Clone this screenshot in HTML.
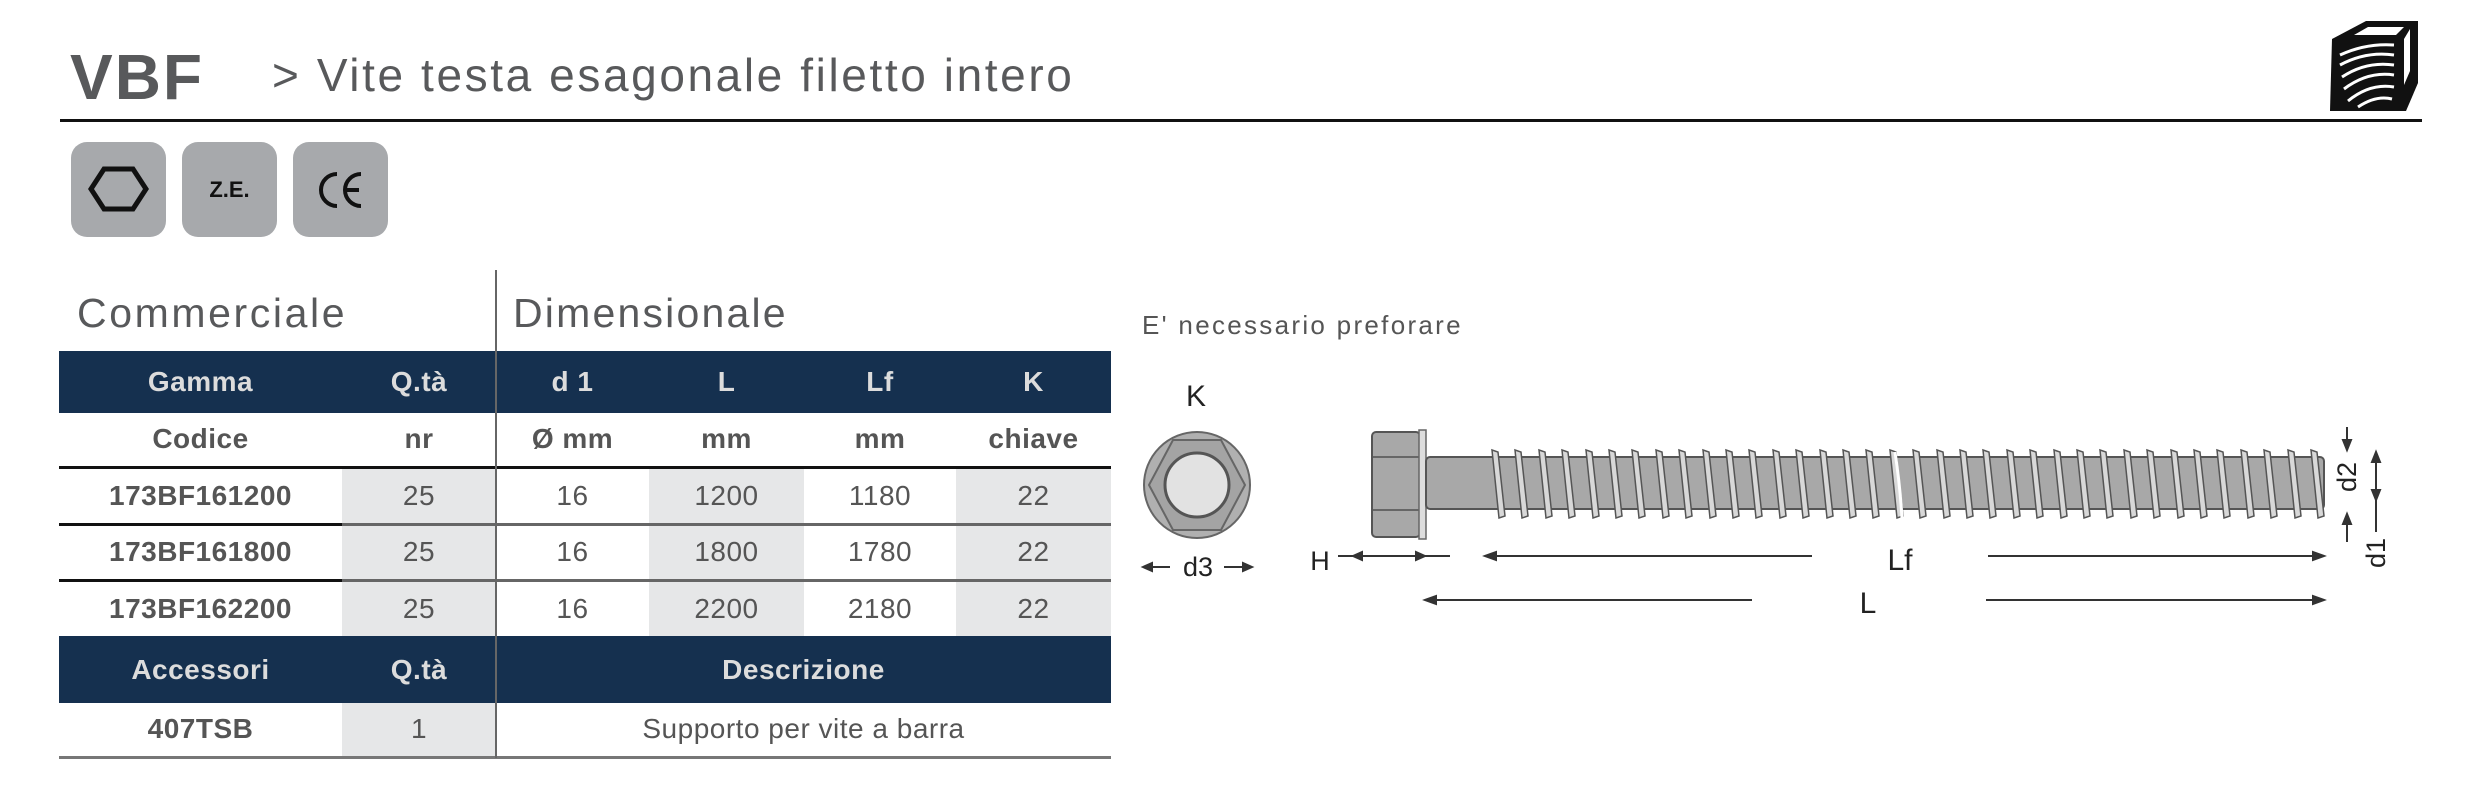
<!DOCTYPE html>
<html><head><meta charset="utf-8"><style>
body{margin:0;width:2481px;height:788px;background:#fff;position:relative;overflow:hidden;font-family:"Liberation Sans",sans-serif;}
.a{position:absolute;}
.ic{position:absolute;top:142px;width:95px;height:95px;background:#a7a9ac;border-radius:16px;}
table{position:absolute;left:59px;top:351px;border-collapse:collapse;font-family:"Liberation Sans",sans-serif;}
td{padding:0;text-align:center;font-size:28px;color:#555;letter-spacing:0.5px}
.h td{background:#15304f;color:#dcdcdc;font-weight:bold;}
.g{background:#e6e7e8;}
.b{font-weight:bold;}
</style></head><body>
<div class="a" style="left:70px;top:42px;font-size:64px;font-weight:bold;color:#58595b;line-height:70px;letter-spacing:2px">VBF</div>
<div class="a" style="left:272px;top:47px;font-size:46px;color:#58595b;line-height:56px;letter-spacing:2.6px">&gt; Vite testa esagonale filetto intero</div>
<div class="a" style="left:60px;top:119px;width:2362px;height:3px;background:#111;"></div>
<svg class="a" style="left:2326px;top:15px" width="98" height="100" viewBox="0 0 98 100">
<path d="M6 24 L40 6 L92 6 L92 68 L80 96 L4 96 Z" fill="#111"/>
<path d="M28 20 L42 12 L78 12 L70 20 Z" fill="#fff"/>
<path d="M78 24 L84 14 L84 56 L78 70 Z" fill="#fff"/>
<g fill="none" stroke="#fff" stroke-width="3">
<path d="M14 40 Q40 28 68 30"/><path d="M14 50 Q40 36 68 40"/><path d="M16 62 Q40 46 68 50"/><path d="M18 74 Q42 56 68 60"/><path d="M22 86 Q44 68 68 72"/><path d="M32 92 Q50 80 66 84"/></g>
</svg>
<div class="ic" style="left:71px"><svg width="95" height="95"><polygon points="33,27 62,27 75,47 62,67 33,67 20,47" fill="none" stroke="#111" stroke-width="5"/></svg></div>
<div class="ic" style="left:182px"><div style="text-align:center;line-height:95px;font-weight:bold;font-size:22px;color:#111">Z.E.</div></div>
<div class="ic" style="left:293px"><svg width="95" height="95" fill="none" stroke="#111" stroke-width="4"><path d="M44 32 A16 16 0 0 0 44 64"/><path d="M68 32 A16 16 0 0 0 68 64 M54 48 L66 48"/></svg></div>

<div class="a" style="left:77px;top:290px;font-size:41px;color:#58595b;line-height:46px;letter-spacing:2.6px">Commerciale</div>
<div class="a" style="left:513px;top:290px;font-size:41px;color:#58595b;line-height:46px;letter-spacing:2.2px">Dimensionale</div>
<div class="a" style="left:495px;top:270px;width:2px;height:488px;background:#666;z-index:2"></div>

<table>
<tr class="h" style="height:62px"><td style="width:283px">Gamma</td><td style="width:154px">Q.tà</td><td style="width:153px">d 1</td><td style="width:155px">L</td><td style="width:152px">Lf</td><td style="width:155px">K</td></tr>
<tr style="height:54px" class="b"><td>Codice</td><td>nr</td><td>Ø mm</td><td>mm</td><td>mm</td><td>chiave</td></tr>
<tr style="height:57px;border-top:3px solid #111"><td class="b">173BF161200</td><td class="g">25</td><td>16</td><td class="g">1200</td><td>1180</td><td class="g">22</td></tr>
<tr style="height:56px;border-top:3px solid #666"><td class="b" style="border-top:3px solid #111">173BF161800</td><td class="g">25</td><td>16</td><td class="g">1800</td><td>1780</td><td class="g">22</td></tr>
<tr style="height:56px;border-top:3px solid #666"><td class="b" style="border-top:3px solid #111">173BF162200</td><td class="g">25</td><td>16</td><td class="g">2200</td><td>2180</td><td class="g">22</td></tr>
<tr class="h" style="height:67px"><td>Accessori</td><td>Q.tà</td><td colspan="4">Descrizione</td></tr>
<tr style="height:54px;border-bottom:3px solid #777"><td class="b">407TSB</td><td class="g">1</td><td colspan="4">Supporto per vite a barra</td></tr>
</table>

<div class="a" style="left:1142px;top:310px;font-size:26px;color:#555;line-height:30px;letter-spacing:2.3px">E' necessario preforare</div>
<svg class="a" style="left:0;top:0" width="2481" height="788">
<defs><path id="t" d="M-3 450 l6 2 l7 64 l-6 2 Z" fill="#d8d8d8" stroke="#555" stroke-width="1.5"/></defs>
<g font-family="Liberation Sans,sans-serif" fill="#222">
<text x="1196" y="406" font-size="30" text-anchor="middle">K</text>
<text x="1198" y="576" font-size="27" text-anchor="middle">d3</text>
<text x="1320" y="570" font-size="27" text-anchor="middle">H</text>
<text x="1900" y="570" font-size="30" text-anchor="middle">Lf</text>
<text x="1868" y="613" font-size="30" text-anchor="middle">L</text>
<text transform="translate(2356,477) rotate(-90)" font-size="27" text-anchor="middle">d2</text>
<text transform="translate(2385,553) rotate(-90)" font-size="27" text-anchor="middle">d1</text>
</g>
<circle cx="1197" cy="485" r="53" fill="#b0b0b0" stroke="#666" stroke-width="2"/>
<polygon points="1173,440 1221,440 1245,485 1221,530 1173,530 1149,485" fill="#a4a4a4" stroke="#666" stroke-width="2"/>
<circle cx="1197" cy="485" r="32" fill="#e2e2e2" stroke="#555" stroke-width="3"/>
<g stroke="#333" stroke-width="2" fill="#333">
<line x1="1145" y1="567" x2="1170" y2="567"/><polygon points="1143,567 1152,563 1152,571"/>
<line x1="1224" y1="567" x2="1250" y2="567"/><polygon points="1252,567 1243,563 1243,571"/>
<line x1="1338" y1="556" x2="1450" y2="556"/><polygon points="1353,556 1362,552 1362,560"/><polygon points="1425,556 1416,552 1416,560"/>
<line x1="1487" y1="556" x2="1812" y2="556"/><polygon points="1485,556 1496,552 1496,560"/>
<line x1="1988" y1="556" x2="2322" y2="556"/><polygon points="2324,556 2313,552 2313,560"/>
<line x1="1427" y1="600" x2="1752" y2="600"/><polygon points="1425,600 1436,596 1436,604"/>
<line x1="1986" y1="600" x2="2322" y2="600"/><polygon points="2324,600 2313,596 2313,604"/>
<line x1="2347" y1="427" x2="2347" y2="445"/><polygon points="2347,450 2343,440 2351,440"/>
<line x1="2347" y1="518" x2="2347" y2="542"/><polygon points="2347,514 2343,524 2351,524"/>
<line x1="2376" y1="455" x2="2376" y2="532"/><polygon points="2376,452 2372,462 2380,462"/><polygon points="2376,500 2372,490 2380,490"/>
</g>
<rect x="1372" y="432" width="48" height="105" rx="4" fill="#a8a8a8" stroke="#555" stroke-width="2"/>
<rect x="1419" y="430" width="7" height="109" fill="#ddd" stroke="#666" stroke-width="1.5"/>
<line x1="1373" y1="457" x2="1419" y2="457" stroke="#666" stroke-width="2"/>
<line x1="1373" y1="510" x2="1419" y2="510" stroke="#666" stroke-width="2"/>
<rect x="1426" y="457" width="898" height="52" rx="4" fill="#a8a8a8" stroke="#555" stroke-width="2"/>
<g>
<use href="#t" x="1495"/><use href="#t" x="1518"/><use href="#t" x="1542"/><use href="#t" x="1565"/><use href="#t" x="1589"/><use href="#t" x="1612"/><use href="#t" x="1635"/><use href="#t" x="1659"/><use href="#t" x="1682"/><use href="#t" x="1706"/><use href="#t" x="1729"/><use href="#t" x="1752"/><use href="#t" x="1776"/><use href="#t" x="1799"/><use href="#t" x="1823"/><use href="#t" x="1846"/><use href="#t" x="1869"/><use href="#t" x="1893"/><use href="#t" x="1916"/><use href="#t" x="1940"/><use href="#t" x="1963"/><use href="#t" x="1986"/><use href="#t" x="2010"/><use href="#t" x="2033"/><use href="#t" x="2057"/><use href="#t" x="2080"/><use href="#t" x="2103"/><use href="#t" x="2127"/><use href="#t" x="2150"/><use href="#t" x="2174"/><use href="#t" x="2197"/><use href="#t" x="2220"/><use href="#t" x="2244"/><use href="#t" x="2267"/><use href="#t" x="2291"/><use href="#t" x="2314"/>
</g>
<path d="M1895 452 Q1900 485 1902 518" stroke="#fff" stroke-width="3" fill="none"/>
</svg>
</body></html>
